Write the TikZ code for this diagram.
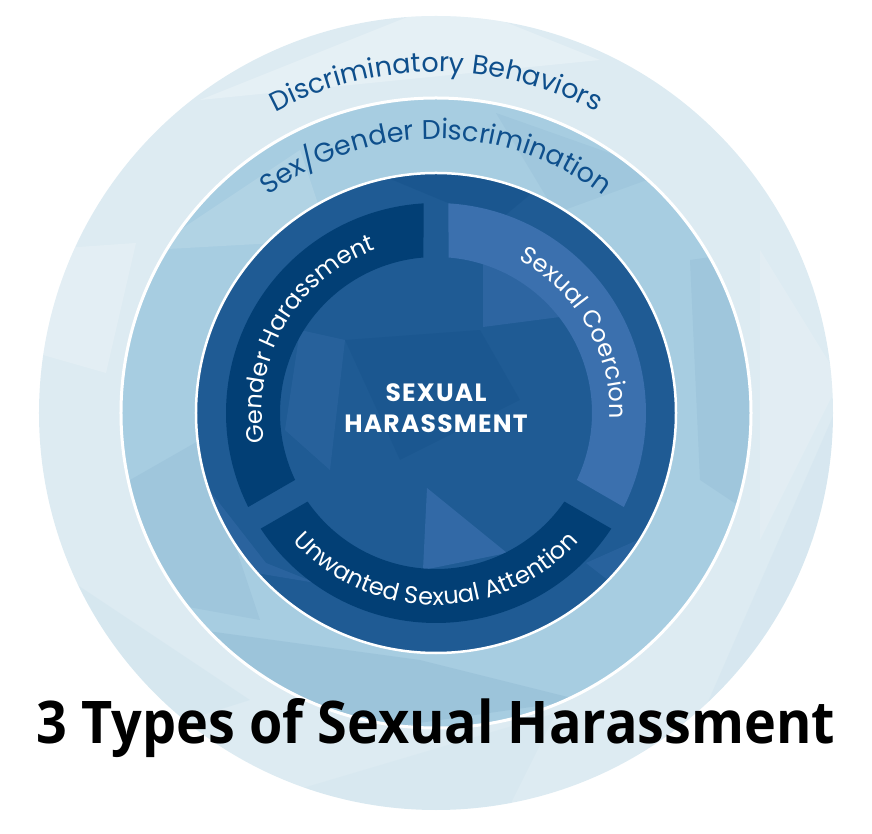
\documentclass[tikz,border=0pt]{standalone}
\usepackage{fontspec}
\setmainfont{Poppins}
\newfontfamily\titlefont{Open Sans}
\usepackage{xcolor}
\usepackage{tikz}
\usetikzlibrary{positioning,decorations.text}
\definecolor{outerring}{HTML}{DDEBF2}
\definecolor{midring}{HTML}{A7CDE1}
\definecolor{corebg}{HTML}{1F5B94}
\definecolor{banddark}{HTML}{023F75}
\definecolor{bandlight}{HTML}{3B70AE}
\definecolor{labelblue}{HTML}{0E4F8C}

\tikzset{
  ringlabel/.style={decorate, decoration={text along path, text align=center, text={#1}}},
  facet/.style={fill=#1, draw=none}
}
% outer/inner half-gap angles of the three bands (12.5pt strips)
\newcommand{\gapout}{3.41}
\newcommand{\gapin}{4.60}
\newcommand{\bandseg}[3]{% start gap, end gap, colour
  \fill[#3] (#1+\gapout:210) arc[start angle=#1+\gapout, end angle=#2-\gapout, radius=210pt]
    -- (#2-\gapin:156) arc[start angle=#2-\gapin, end angle=#1+\gapin, radius=156pt] -- cycle;}

\begin{document}
\begin{tikzpicture}[x=1pt, y=1pt]
\useasboundingbox (-436,-421) rectangle (436,413);

% ---------------- Outer ring: discriminatory behaviors ----------------
\fill[outerring] (0,0) circle[radius=397pt];
\begin{scope}
\clip (0,0) circle[radius=397pt];
\fill[facet=white, opacity=0.25] (-236,313) -- (164,353) -- (14,413) -- cycle;
\fill[facet=white, opacity=0.15] (324,163) -- (404,33) -- (324,-127) -- cycle;
\fill[facet=midring, opacity=0.12] (-396,-147) -- (-186,-287) -- (-376,-347) -- cycle;
\fill[facet=midring, opacity=0.1] (404,13) -- (264,-307) -- (394,-287) -- cycle;
\fill[facet=white, opacity=0.18] (-400,163) -- (-300,170) -- (-330,40) -- (-400,60) -- cycle;
\fill[facet=midring, opacity=0.08] (-150,-380) -- (120,-300) -- (60,-420) -- cycle;
\end{scope}

% ---------------- Middle ring: sex/gender discrimination ----------------
\fill[midring] (0,0) circle[radius=315pt];
\begin{scope}
\clip (0,0) circle[radius=315pt];
\fill[facet=corebg, opacity=0.06] (254,153) -- (324,163) -- (324,-107) -- (264,-67) -- cycle;
\fill[facet=corebg, opacity=0.06] (-306,-67) -- (-236,-27) -- (-176,-207) -- (-286,-187) -- cycle;
\fill[facet=corebg, opacity=0.08] (-236,-217) -- (-16,-247) -- (144,-287) -- (-136,-327) -- cycle;
\fill[facet=white, opacity=0.12] (-286,163) -- (-136,263) -- (-106,173) -- cycle;
\fill[facet=corebg, opacity=0.05] (60,300) -- (230,240) -- (120,200) -- cycle;
\end{scope}
\draw[white, line width=3pt] (0,0) circle[radius=315pt];

% ---------------- Core: sexual harassment ----------------
\fill[corebg] (0,0) circle[radius=240pt];
\begin{scope}
\clip (0,0) circle[radius=240pt];
\fill[facet=bandlight, opacity=0.7] (-9,-75) -- (71,-140) -- (-13,-157) -- cycle;
\fill[facet=bandlight, opacity=0.5] (47,153) -- (47,86) -- (124,96) -- (94,183) -- cycle;
\fill[facet=banddark, opacity=0.12] (-91,73) -- (44,83) -- (84,13) -- (-36,-47) -- cycle;
\fill[facet=bandlight, opacity=0.3] (-136,83) -- (-91,73) -- (-106,-57) -- (-151,-17) -- cycle;
\fill[facet=bandlight, opacity=0.4] (-240,-60) -- (-170,-150) -- (-120,-170) -- (-240,-150) -- cycle;
\fill[facet=bandlight, opacity=0.35] (150,-150) -- (240,-110) -- (240,-220) -- cycle;
\fill[facet=banddark, opacity=0.15] (-60,240) -- (120,240) -- (60,190) -- cycle;
\end{scope}
\draw[white, line width=2.5pt] (0,0) circle[radius=240pt];

% three bands with parallel gaps at 90, 210 and 330 degrees
\bandseg{90}{210}{banddark}
\bandseg{210}{330}{banddark}
\bandseg{-30}{90}{bandlight}

% ---------------- Labels ----------------
\path[ringlabel={|\fontsize{27}{32}\selectfont\color{labelblue}|Discriminatory Behaviors}]
  (165:341) arc[start angle=165, end angle=15, radius=341pt];
\path[ringlabel={|\fontsize{27}{32}\selectfont\color{labelblue}|Sex/Gender Discrimination}]
  (170:274) arc[start angle=170, end angle=10, radius=274pt];
\path[ringlabel={|\fontsize{24}{28}\selectfont\color{white}|Gender Harassment}]
  (206:174) arc[start angle=206, end angle=94, radius=174pt];
\path[ringlabel={|\fontsize{24}{28}\selectfont\color{white}|Sexual Coercion}]
  (86:174) arc[start angle=86, end angle=-26, radius=174pt];
\path[ringlabel={|\fontsize{24}{28}\selectfont\color{white}|Unwanted Sexual Attention}]
  (214:192) arc[start angle=214, end angle=326, radius=192pt];

\node (coretop) [anchor=base, text=white, inner sep=0pt, font=\fontsize{25}{30}\selectfont\bfseries\addfontfeature{LetterSpace=5}] at (0,11) {SEXUAL};
\node (corebot) [anchor=base, text=white, inner sep=0pt, font=\fontsize{25}{30}\selectfont\bfseries\addfontfeature{LetterSpace=5}] at (0,-20) {HARASSMENT};

\node (title) [anchor=base, inner sep=0pt] at (0,-330)
  {\resizebox{798pt}{45pt}{\titlefont\bfseries 3 Types of Sexual Harassment}};

\end{tikzpicture}
\end{document}
